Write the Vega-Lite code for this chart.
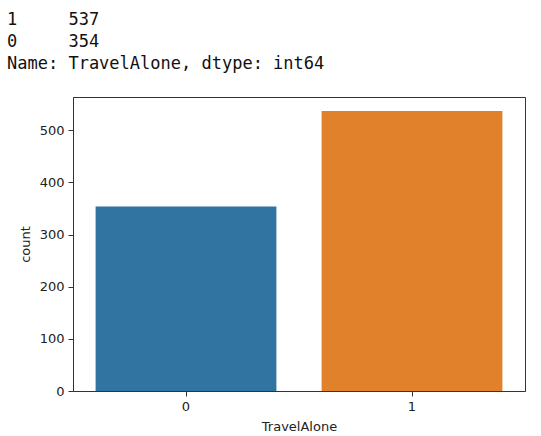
{
  "$schema": "https://vega.github.io/schema/vega-lite/v6.json",
  "autosize": {"type": "none"},
  "padding": {"left": 73, "top": 97, "right": 16, "bottom": 45},
  "width": 452,
  "height": 294,
  "background": "white",
  "title": {
    "text": ["1\u00a0\u00a0\u00a0\u00a0\u00a0537", "0\u00a0\u00a0\u00a0\u00a0\u00a0354", "Name: TravelAlone, dtype: int64"],
    "orient": "top",
    "anchor": "start",
    "frame": "group",
    "dx": -66,
    "offset": 7,
    "baseline": "bottom",
    "lineHeight": 22,
    "font": "DejaVu Sans Mono",
    "fontSize": 17,
    "fontWeight": "normal",
    "color": "#111"
  },
  "data": {
    "values": [
      {"TravelAlone": "0", "count": 354},
      {"TravelAlone": "1", "count": 537}
    ]
  },
  "mark": {"type": "bar"},
  "encoding": {
    "x": {
      "field": "TravelAlone",
      "type": "nominal",
      "scale": {"paddingInner": 0.2, "paddingOuter": 0.1},
      "axis": {"labelAngle": 0, "title": "TravelAlone", "titlePadding": 7}
    },
    "y": {
      "field": "count",
      "type": "quantitative",
      "scale": {"domain": [0, 563.85], "nice": false, "zero": true},
      "axis": {"values": [0, 100, 200, 300, 400, 500], "title": "count", "titlePadding": 7}
    },
    "color": {
      "field": "TravelAlone",
      "type": "nominal",
      "scale": {"domain": ["0", "1"], "range": ["#3274a1", "#e1812c"]},
      "legend": null
    }
  },
  "config": {
    "view": {"stroke": "#333", "strokeWidth": 1},
    "axis": {
      "grid": false,
      "domainColor": "#333",
      "tickColor": "#333",
      "tickSize": 5,
      "labelFont": "DejaVu Sans",
      "labelFontSize": 13,
      "labelColor": "#222",
      "labelPadding": 4,
      "titleFont": "DejaVu Sans",
      "titleFontSize": 13,
      "titleFontWeight": "normal",
      "titleColor": "#222"
    }
  }
}
